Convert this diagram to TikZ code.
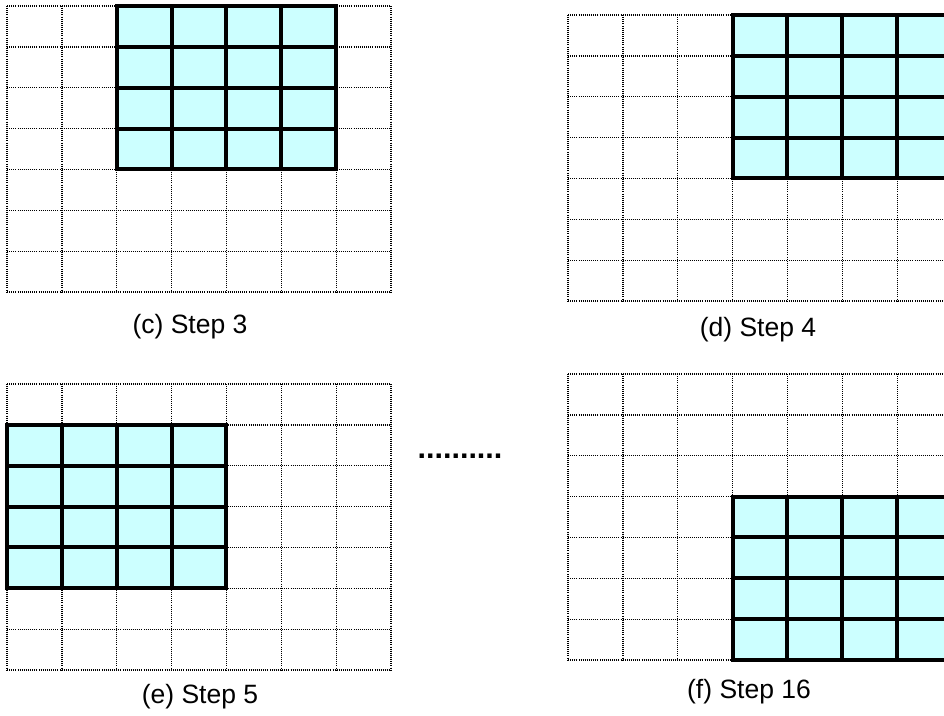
\documentclass[tikz,border=0pt]{standalone}
\usepackage{fontspec}
\setmainfont{Liberation Sans}
\usetikzlibrary{positioning}
\definecolor{cellfill}{HTML}{CCFFFF}
\tikzset{
  dotline/.style={black,line width=1.3pt,dash pattern=on 1pt off 1.1pt},
  boldline/.style={black,line width=4pt,line cap=rect},
  steplbl/.style={font=\fontsize{26.5}{30}\selectfont,inner sep=0pt},
  morelbl/.style={font=\fontsize{30.5}{34}\selectfont\bfseries,inner sep=0pt},
}

\begin{document}
\begin{tikzpicture}[x=1pt,y=-1pt]
  \useasboundingbox (0,0) rectangle (944,715);
  % ---------- grids, one per step ----------
  \foreach \name/\ox/\oy/\hc/\hr in {c/7/6/2/0, d/568/15/3/0, e/7/384/0/1, f/568/374/3/3}{
    \begin{scope}[shift={(\ox,\oy)},x=54.86pt,y=-40.86pt]
      \foreach \k in {0,...,7}{
        \draw[dotline] (\k,0) -- (\k,7);
        \draw[dotline] (0,\k) -- (7,\k);
      }
      \fill[cellfill] (\hc,\hr) rectangle (\hc+4,\hr+4);
      \foreach \k in {0,...,4}{
        \draw[boldline] (\hc+\k,\hr) -- (\hc+\k,\hr+4);
        \draw[boldline] (\hc,\hr+\k) -- (\hc+4,\hr+\k);
      }
    \end{scope}
  }
  % ---------- captions ----------
  \node[steplbl] (capc) at (190,327) {(c) Step 3};
  \node[steplbl] (capd) at (758,330) {(d) Step 4};
  \node[steplbl] (cape) at (200,697) {(e) Step 5};
  \node[steplbl] (capf) at (749,692) {(f) Step 16};
  \node[morelbl] (more) at (460,456) {..........};
\end{tikzpicture}
\end{document}
